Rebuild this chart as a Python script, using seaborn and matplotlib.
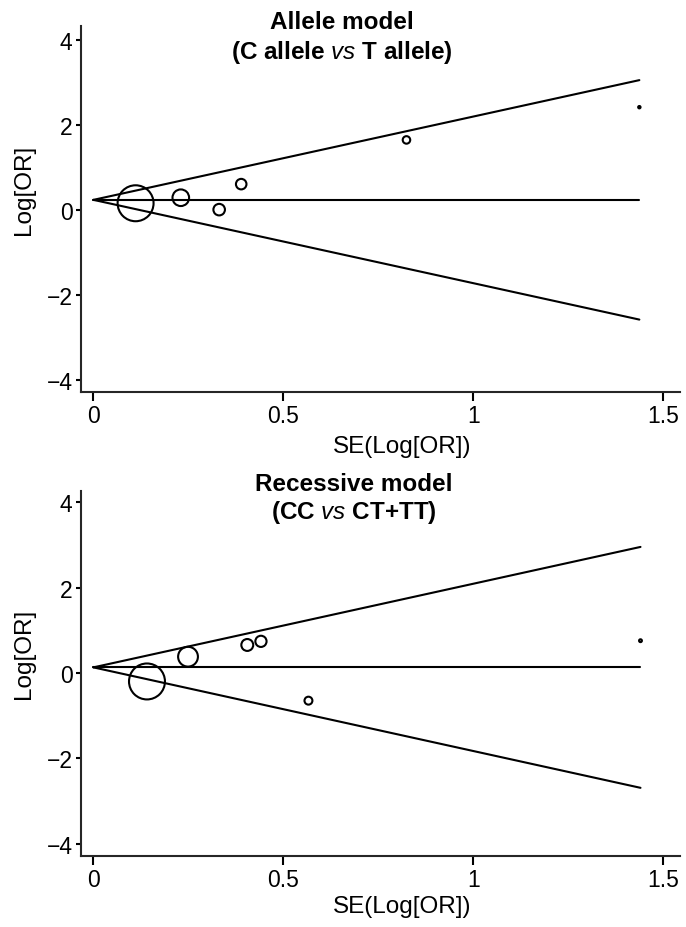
import numpy as np
import pandas as pd
import matplotlib
matplotlib.use("Agg")
import matplotlib.pyplot as plt
from matplotlib.ticker import FixedLocator, StrMethodFormatter
import seaborn as sns

# Allele model (C allele vs T allele): per-study SE, log odds ratio, relative weight (%)
allele_se = [0.111, 0.230, 0.331, 0.389, 0.824, 1.437]
allele_logor = [0.15, 0.28, 0.00, 0.60, 1.64, 2.41]
allele_weight = [68.8, 14.7, 7.1, 5.9, 3.0, 0.3]
allele_pooled = 0.23

# Recessive model (CC vs CT+TT)
recessive_se = [0.141, 0.249, 0.405, 0.441, 0.566, 1.440]
recessive_logor = [-0.20, 0.38, 0.655, 0.74, -0.65, 0.755]
recessive_weight = [63.9, 19.4, 7.0, 6.2, 3.1, 0.4]
recessive_pooled = 0.13

x_ticks = [0, 0.5, 1, 1.5]
y_ticks = [-4, -2, 0, 2, 4]

sns.set_style("ticks")
plt.rcParams["font.family"] = ["Liberation Sans", "DejaVu Sans"]
plt.rcParams["mathtext.fontset"] = "custom"
plt.rcParams["mathtext.rm"] = "Liberation Sans"
plt.rcParams["mathtext.it"] = "Liberation Sans:italic"
plt.rcParams["axes.linewidth"] = 1.5

MAX_AREA = 670.0   # marker area (pt^2) of the heaviest study
LW = 1.5


def funnel(ax, se, logor, weight, pooled, ylim):
    df = pd.DataFrame({"se": se, "logor": logor, "weight": weight})
    edge = np.array([0.0, df["se"].max()])
    bounds = pd.DataFrame({
        "se": np.concatenate([edge, edge, edge]),
        "logor": np.concatenate([pooled + 1.96 * edge,
                                 np.full(2, pooled),
                                 pooled - 1.96 * edge]),
        "line": np.repeat(["upper", "pooled", "lower"], 2),
    })
    sns.lineplot(data=bounds, x="se", y="logor", units="line", estimator=None,
                 sort=False, color="black", linewidth=LW, ax=ax)
    wmin, wmax = df["weight"].min(), df["weight"].max()
    sns.scatterplot(data=df, x="se", y="logor", size="weight",
                    sizes=(MAX_AREA * wmin / wmax, MAX_AREA),
                    size_norm=(wmin, wmax), legend=False,
                    facecolor="none", edgecolor="black", linewidth=LW,
                    ax=ax, zorder=3)
    ax.collections[-1].set_facecolor("none")

    ax.set_xlim(-0.034, 1.544)
    ax.set_ylim(*ylim)
    ax.xaxis.set_major_locator(FixedLocator(x_ticks))
    ax.xaxis.set_major_formatter(StrMethodFormatter("{x:g}"))
    ax.yaxis.set_major_locator(FixedLocator(y_ticks))
    for side in ("top", "right"):
        ax.spines[side].set_visible(False)
    ax.tick_params(axis="x", length=6.5, width=LW, pad=2.5, labelsize=16.5,
                   color="black", labelcolor="black")
    ax.tick_params(axis="y", length=3.6, width=LW, pad=2.2, labelsize=16.5,
                   color="black", labelcolor="black")
    ax.set_xlabel("SE(Log[OR])", fontsize=17.5, color="black")
    ax.set_ylabel("Log[OR]", fontsize=17.5, color="black")
    ax.yaxis.set_label_coords(-0.076, 0.556)


fig = plt.figure(figsize=(6.86, 9.28), dpi=100)
W, H = 686.0, 928.0

ax1 = fig.add_axes([80.5 / W, 1 - 393 / H, 599.5 / W, 366 / H])
funnel(ax1, allele_se, allele_logor, allele_weight, allele_pooled, (-4.29, 4.32))
ax1.xaxis.set_label_coords(0.536, -0.163)
ax1.xaxis.label.set_va("baseline")

ax2 = fig.add_axes([80.5 / W, 1 - 857 / H, 599.5 / W, 365.3 / H])
funnel(ax2, recessive_se, recessive_logor, recessive_weight, recessive_pooled, (-4.29, 4.27))
ax2.xaxis.set_label_coords(0.536, -0.154)
ax2.xaxis.label.set_va("baseline")

title_kw = dict(ha="center", va="baseline", fontsize=17.5, fontweight="bold", color="black")
fig.text(342 / W, 1 - 29.3 / H, "Allele model", **title_kw)
fig.text(342 / W, 1 - 59.3 / H, r"(C allele $\mathit{vs}$ T allele)", **title_kw)
fig.text(353.5 / W, 1 - 491 / H, "Recessive model", **title_kw)
fig.text(353.5 / W, 1 - 519.3 / H, r"(CC $\mathit{vs}$ CT+TT)", **title_kw)

fig.savefig("out.png", dpi=100, facecolor="white")
